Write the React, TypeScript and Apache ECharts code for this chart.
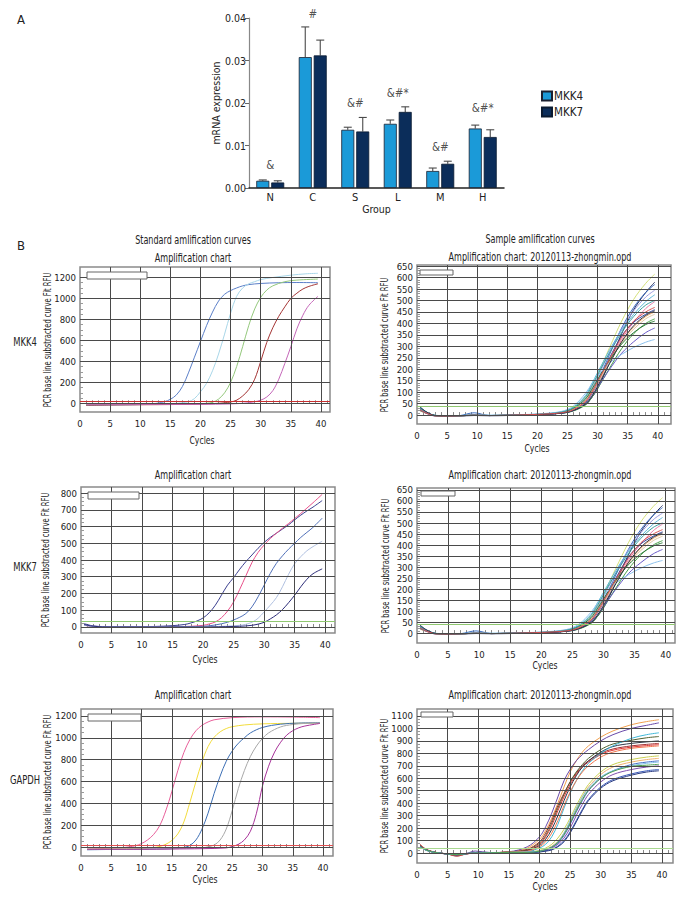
import React, { useEffect, useRef } from "react";
import * as echarts from "echarts";

const FONT = "'DejaVu Sans Condensed', 'Liberation Sans Narrow', 'Liberation Sans', sans-serif";

// ---------- Panel A data ----------
const groups = ["N", "C", "S", "L", "M", "H"];
const mkk4Mean = [0.0017, 0.0308, 0.0137, 0.0151, 0.004, 0.014];
const mkk4Upper = [0.0019, 0.0379, 0.0143, 0.016, 0.0047, 0.0148];
const mkk7Mean = [0.0013, 0.0312, 0.0133, 0.0179, 0.0057, 0.012];
const mkk7Upper = [0.0017, 0.0348, 0.0166, 0.0191, 0.0063, 0.0137];
const sigMarks = ["&", "#", "&#", "&#*", "&#", "&#*"];
const sigHeights = [0.0053, 0.041, 0.0201, 0.0224, 0.0097, 0.0189];
const barTicks = [0, 0.01, 0.02, 0.03, 0.04];

// ---------- Panel B data ----------
const mkk4Std = [
  [[1,-20],[3,-18],[5,-16],[8,-14],[10,-12],[12,-6],[13,2],[14,15],[15,38],[16,80],[17,160],[18,290],[19,440],[20,590],[21,740],[22,870],[23,975],[24,1040],[25,1075],[26,1100],[27,1120],[28,1132],[30,1143],[33,1150],[36,1152],[39.5,1150]],
  [[1,-15],[5,-14],[10,-12],[14,-8],[16,-2],[17,5],[18,15],[19,45],[20,110],[21,190],[22,310],[23,470],[24,660],[25,860],[26,1020],[27,1100],[28,1140],[29,1160],[30,1180],[32,1200],[35,1222],[37.5,1235],[39.5,1240]],
  [[1,-12],[5,-12],[10,-10],[15,-8],[20,-5],[21,0],[22,10],[23,40],[24,100],[25,200],[26,350],[27,540],[28,740],[29,900],[30,1010],[31,1080],[32,1120],[34,1160],[36,1175],[39.5,1185]],
  [[1,-18],[5,-16],[10,-14],[15,-12],[20,-8],[23,0],[24,5],[25,12],[26,30],[27,70],[28,130],[29,230],[30,400],[31,580],[32,720],[33,830],[34,920],[35,1000],[36,1050],[37,1090],[38,1115],[39.5,1140]],
  [[1,-10],[5,-10],[10,-10],[15,-10],[20,-10],[25,-6],[27,0],[28,5],[29,15],[30,30],[31,60],[32,120],[33,230],[34,380],[35,540],[36,710],[37,840],[38,935],[39.5,1020]],
];
const mkk4StdColors = ["#5b7fc8", "#a8d6e8", "#94c87c", "#a43434", "#c466b8"];

const mkk7Std = [
  [[0.5,20],[1,15],[2,6],[4,2],[8,1],[12,3],[15,8],[17,15],[18,24],[19,36],[20,54],[21,85],[22,130],[23,190],[24,250],[25,295],[26,345],[27,390],[28,430],[29,470],[30,505],[31,535],[32,560],[33,585],[34,610],[35,640],[36,668],[37,693],[38,716],[39.5,755]],
  [[0.5,10],[2,3],[5,1],[10,1],[15,2],[18,4],[20,10],[21,18],[22,30],[23,55],[24,95],[25,150],[26,225],[27,305],[28,385],[29,445],[30,490],[31,528],[32,560],[33,590],[34,618],[35,648],[36,678],[37,710],[38,742],[39.5,792]],
  [[0.5,12],[2,4],[5,1],[10,1],[15,1],[20,4],[22,12],[24,28],[25,42],[26,58],[27,80],[28,120],[29,180],[30,250],[31,320],[32,380],[33,425],[34,465],[35,500],[36,535],[37,565],[38,595],[39.5,650]],
  [[0.5,10],[2,3],[5,0],[10,0],[15,0],[20,1],[24,5],[26,10],[27,16],[28,28],[29,52],[30,90],[31,130],[32,175],[33,240],[34,315],[35,378],[36,420],[37,455],[38,480],[39.5,512]],
  [[0.5,15],[2,4],[5,0],[10,0],[15,0],[20,0],[25,3],[27,6],[28,10],[29,17],[30,28],[31,48],[32,72],[33,104],[34,145],[35,190],[36,240],[37,285],[38,318],[39.5,347]],
];
const mkk7StdColors = ["#3b3f8f", "#e8508a", "#5070b8", "#b0c0e0", "#2c2c78"];

const gapdhStd = [
  [[1,-20],[3,-15],[5,-10],[7,-5],[8,2],[9,12],[10,32],[11,65],[12,115],[13,195],[14,330],[15,505],[16,700],[17,865],[18,985],[19,1065],[20,1115],[21,1145],[22,1165],[25,1185],[30,1192],[35,1190],[39.5,1185]],
  [[1,-20],[5,-18],[10,-14],[11,-10],[12,-5],[13,5],[14,25],[15,60],[16,120],[17,230],[18,410],[19,600],[20,780],[21,920],[22,1005],[23,1055],[24,1085],[25,1102],[27,1118],[30,1128],[35,1133],[39.5,1135]],
  [[1,-25],[5,-22],[10,-20],[15,-15],[17,-5],[18,15],[19,65],[20,165],[21,310],[22,490],[23,650],[24,785],[25,880],[26,950],[27,1000],[28,1045],[30,1095],[33,1125],[36,1135],[39.5,1138]],
  [[1,-20],[5,-20],[10,-18],[15,-15],[20,-8],[21,2],[22,18],[23,65],[24,165],[25,335],[26,535],[27,700],[28,830],[29,925],[30,995],[31,1045],[33,1100],[35,1122],[37,1132],[39.5,1137]],
  [[1,-20],[5,-20],[10,-20],[15,-18],[20,-15],[24,-8],[25,5],[26,25],[27,65],[28,145],[29,310],[30,560],[31,740],[32,870],[33,960],[34,1025],[35,1065],[36,1092],[37,1108],[39.5,1132]],
];
const gapdhStdColors = ["#e8609a", "#f2dc3c", "#3c6eb4", "#a8a8a8", "#a8349a"];

const sampleCycles = [0.5,1.5,3,5,7,9.5,12,15,20,24,26,28,29,30,31,32,34,36,38,39.5];
const sampleCurves = [
  [28,12,-3,-4,-3,-1,-2,-1,3,12,30,75,120,175,235,295,410,505,575,615],
  [32,14,-2,-4,-4,-2,-3,-2,2,9,20,45,75,115,170,230,355,460,535,580],
  [25,10,-4,-5,-3,10,-2,-1,2,10,25,60,100,150,205,265,380,470,535,570],
  [22,9,-3,-4,-3,-1,-2,-1,3,11,28,70,115,165,220,275,375,455,515,545],
  [35,15,-1,-3,-2,0,-1,0,4,14,35,85,135,185,235,285,370,440,495,525],
  [20,8,-4,-5,-3,-1,-2,-1,2,9,22,55,90,135,185,235,330,405,465,495],
  [30,13,-2,-4,-3,-1,-2,-1,2,9,22,55,92,140,195,250,345,405,440,460],
  [18,8,-3,-4,-3,-1,-2,-1,3,11,26,62,100,145,190,235,320,385,430,450],
  [24,10,-3,-4,-3,-1,-2,-1,3,10,24,58,95,140,185,230,315,375,420,440],
  [20,9,-3,-5,-3,-1,-2,-1,2,8,18,45,75,115,160,205,290,355,400,420],
  [26,11,-2,-4,-3,-1,-2,-1,3,12,30,70,110,155,200,240,310,360,395,410],
  [22,9,-3,-4,-3,-1,-2,-1,2,8,20,50,80,120,160,200,270,320,360,380],
  [28,12,-2,-3,-3,0,-1,0,5,16,40,95,135,170,200,228,265,295,318,330],
  [30,12,-2,-4,-3,-1,-2,-1,3,13,32,80,125,175,225,272,360,430,480,500],
  [36,15,-2,-4,-3,-1,-2,-1,2,8,20,48,80,125,175,225,320,390,435,455],
  [24,10,-3,-4,-3,-1,-2,-1,3,10,24,60,98,145,195,245,340,410,450,470],
];
const sampleColors = ["#d4e07a","#1e2a5e","#3a6cc0","#9a9ae0","#5ab4d8","#e87aa8","#34449a","#f0a868","#e0c8a0","#48a048","#2e7a3a","#6a5ac8","#8cc0ec","#3aa0a0","#2a3040","#d85050"];

const gapdhCycles = [0.5,1.5,3,5,6.5,8,9.5,12,15,18,20,21,22,23,24,25,26,27,28,30,32,35,37.5,39.5];
const gapdhCurves = [
  [62,28,5,-7,-14,-5,0,3,8,40,110,180,280,400,530,650,740,810,860,930,980,1030,1055,1070],
  [55,25,4,-8,-12,-4,16,4,10,50,130,210,320,450,580,670,740,790,830,900,950,1000,1025,1045],
  [70,30,6,-8,-25,-8,0,3,8,30,90,160,260,380,480,570,640,700,740,800,835,860,872,880],
  [58,26,5,-7,-14,-5,0,2,7,25,80,140,240,360,470,570,650,710,760,830,875,905,925,935],
  [65,28,5,-8,-22,-7,0,3,7,22,70,130,220,340,450,550,630,690,730,790,825,850,862,870],
  [60,27,5,-7,-15,-6,0,2,6,20,60,110,190,300,420,530,620,690,740,810,855,880,892,900],
  [52,24,4,-7,-13,-5,0,2,6,12,40,70,130,230,360,480,580,660,720,800,860,920,950,965],
  [66,29,6,-8,-18,-6,0,3,7,15,50,90,160,260,380,490,580,650,700,770,810,840,852,860],
  [50,22,4,-7,-12,-5,0,2,5,8,20,40,70,120,190,280,380,470,550,650,710,750,770,780],
  [54,24,4,-7,-13,-5,0,2,5,6,15,30,55,95,160,250,350,450,530,630,690,730,750,760],
  [48,22,3,-6,-12,-4,0,2,4,6,15,25,45,80,140,230,330,420,500,600,660,710,730,740],
  [56,25,4,-7,-14,-5,0,2,4,5,12,24,40,70,120,200,300,390,470,570,630,670,690,700],
  [52,23,4,-7,-13,-5,0,2,4,4,10,18,30,55,100,170,260,350,430,530,590,635,660,670],
  [60,26,5,-8,-16,-6,0,2,3,3,8,15,25,50,90,160,250,340,420,520,580,625,650,660],
  [50,22,4,-7,-12,-5,0,2,5,8,15,30,50,90,160,260,360,450,520,610,660,700,720,730],
  [54,24,4,-7,-13,-5,0,2,5,5,14,28,48,85,150,240,340,430,505,600,655,695,705,712],
];
const gapdhColors = ["#f0a050","#6a4aa8","#a03030","#506030","#e03838","#303848","#40b8d8","#f07850","#c8d050","#f0b070","#4870c8","#8050b0","#3a5ab8","#283a80","#80c0e8","#50a050"];

const xTicks = [0, 5, 10, 15, 20, 25, 30, 35, 40];
const yTicks1200 = [0, 200, 400, 600, 800, 1000, 1200];
const yTicks650 = [0, 50, 100, 150, 200, 250, 300, 350, 400, 450, 500, 550, 600, 650];
const yTicks800 = [0, 100, 200, 300, 400, 500, 600, 700, 800];
const yTicks1100 = [0, 100, 200, 300, 400, 500, 600, 700, 800, 900, 1000, 1100];

const thresholds = [
  [{ v: 22, c: "#c83030" }],
  [{ v: 40, c: "#90c870" }],
  [{ v: 35, c: "#90c870" }],
  [{ v: 40, c: "#90c870" }],
  [{ v: 20, c: "#e05050" }],
  [{ v: 38, c: "#a8d890" }],
];

const titleTop = ["Amplification chart", "Amplification chart: 20120113-zhongmin.opd"];
const yName = "PCR base line substracted curve Fit RFU";

function range(a: number, b: number, s: number) {
  const out: number[] = [];
  for (let v = a; v <= b + 1e-9; v += s) out.push(+v.toFixed(4));
  return out;
}

// layout (pixel placement only)
const panels = [
  { grid: { left: 80, top: 267, width: 250, height: 145 }, xMax: 41.5, yMin: -83, yMax: 1300, ticks: yTicks1200, minor: 50, title: [193, 258, 0], yname: [48, 340], cycles: [202, 440] },
  { grid: { left: 417, top: 265, width: 254, height: 159 }, xMax: 42.2, yMin: -39, yMax: 655, ticks: yTicks650, minor: 10, title: [540, 257, 1], yname: [385, 345], cycles: [537, 448] },
  { grid: { left: 81, top: 487, width: 254, height: 146 }, xMax: 41.6, yMin: -36, yMax: 836, ticks: yTicks800, minor: 25, title: [193, 475, 0], yname: [46, 560], cycles: [205, 659] },
  { grid: { left: 417, top: 488, width: 258, height: 155 }, xMax: 41.5, yMin: -45, yMax: 659, ticks: yTicks650, minor: 10, title: [540, 475, 1], yname: [386, 566], cycles: [545, 665] },
  { grid: { left: 81, top: 709, width: 252, height: 147 }, xMax: 41.65, yMin: -82, yMax: 1264, ticks: yTicks1200, minor: 50, title: [193, 695, 0], yname: [48, 782], cycles: [205, 879] },
  { grid: { left: 417, top: 709, width: 256, height: 154 }, xMax: 41.8, yMin: -80, yMax: 1156, ticks: yTicks1100, minor: 25, title: [540, 695, 1], yname: [385, 786], cycles: [545, 886] },
];

const panelCurves: { data: number[][]; color: string }[][] = [
  mkk4Std.map((d, i) => ({ data: d, color: mkk4StdColors[i] })),
  sampleCurves.map((v, i) => ({ data: sampleCycles.map((c, j) => [c, v[j]]), color: sampleColors[i] })),
  mkk7Std.map((d, i) => ({ data: d, color: mkk7StdColors[i] })),
  sampleCurves.map((v, i) => ({ data: sampleCycles.map((c, j) => [c, v[j]]), color: sampleColors[i] })),
  gapdhStd.map((d, i) => ({ data: d, color: gapdhStdColors[i] })),
  gapdhCurves.map((v, i) => ({ data: gapdhCycles.map((c, j) => [c, v[j]]), color: gapdhColors[i] })),
];

const legendRects = [
  [87, 272, 60, 7], [420, 270, 33, 5], [88, 492, 51, 7], [421, 491, 34, 5], [88, 714, 53, 7], [421, 712, 32, 5],
];

function buildOption() {
  const grids: any[] = [{ left: 249, top: 18, width: 255, height: 170 }];
  const xAxes: any[] = [
    {
      type: "category", gridIndex: 0, data: groups,
      axisLine: { lineStyle: { color: "#222", width: 1.5 } },
      axisTick: { show: false },
      axisLabel: { fontSize: 11, color: "#222", margin: 4, fontFamily: FONT },
      name: "Group", nameLocation: "middle", nameGap: 15,
      nameTextStyle: { fontSize: 10.5, color: "#222", fontFamily: FONT },
      splitLine: { show: false },
    },
  ];
  const yAxes: any[] = [
    {
      type: "value", gridIndex: 0, min: 0, max: 0.04, interval: 0.01,
      axisLine: { show: true, lineStyle: { color: "#888", width: 1.2 } },
      axisTick: { show: true, length: 4, lineStyle: { color: "#666" }, customValues: barTicks },
      axisLabel: { fontSize: 10.5, color: "#222", margin: 3, fontFamily: FONT, formatter: (v: number) => v.toFixed(2), customValues: barTicks },
      splitLine: { show: false },
      name: "mRNA expression", nameLocation: "middle", nameGap: 27,
      nameTextStyle: { fontSize: 10.5, color: "#222", fontFamily: FONT },
    },
  ];
  const series: any[] = [
    {
      type: "bar", name: "MKK4", data: mkk4Mean, xAxisIndex: 0, yAxisIndex: 0,
      barWidth: 13, barGap: "15%",
      itemStyle: { color: "#1b9ad8", borderColor: "#1a2030", borderWidth: 0.8 },
    },
    {
      type: "bar", name: "MKK7", data: mkk7Mean, xAxisIndex: 0, yAxisIndex: 0,
      barWidth: 13, barGap: "15%",
      itemStyle: { color: "#0b2d5a", borderColor: "#0a1a30", borderWidth: 0.8 },
    },
  ];
  const errSeries = (mean: number[], upper: number[], offset: number) => ({
    type: "custom", xAxisIndex: 0, yAxisIndex: 0, silent: true, z: 1,
    data: mean.map((m, i) => [i, m, upper[i]]),
    encode: { x: 0, y: [1, 2] },
    renderItem: (params: any, api: any) => {
      const p1 = api.coord([api.value(0), api.value(1)]);
      const p2 = api.coord([api.value(0), api.value(2)]);
      const cx = p1[0] + offset;
      const st = { stroke: "#4a4a4a", lineWidth: 1.1 };
      return {
        type: "group",
        children: [
          { type: "line", shape: { x1: cx, y1: p1[1], x2: cx, y2: p2[1] }, style: st },
          { type: "line", shape: { x1: cx - 4, y1: p2[1], x2: cx + 4, y2: p2[1] }, style: st },
        ],
      };
    },
  });
  series.push(errSeries(mkk4Mean, mkk4Upper, -7.5));
  series.push(errSeries(mkk7Mean, mkk7Upper, 7.5));
  series.push({
    type: "scatter", xAxisIndex: 0, yAxisIndex: 0, clip: false, silent: true,
    symbolSize: 1, itemStyle: { color: "rgba(0,0,0,0)" },
    data: sigHeights.map((h, i) => [i, h]),
    label: {
      show: true, position: "inside", color: "#222", fontSize: 11.5, fontFamily: FONT,
      formatter: (p: any) => sigMarks[p.dataIndex],
    },
  });

  const SX = 0.78;
  const txt = (text: string, x: number, y: number, size: number, extra: any = {}) => ({
    type: "text", x, y, z: 100, scaleX: SX,
    style: { text, fontSize: size, fontFamily: FONT, fill: "#222", align: "center", verticalAlign: "middle", ...extra },
  });

  const graphic: any[] = [
    { ...txt("A", 21, 19, 13), scaleX: 1 },
    { ...txt("B", 21, 245, 13), scaleX: 1 },
    txt("Standard amlification curves", 193, 240, 11.5),
    txt("Sample amlification curves", 540, 239, 11.5),
    txt("MKK4", 25, 342, 12),
    txt("MKK7", 25, 567, 12),
    txt("GAPDH", 25, 780, 12),
  ];

  panels.forEach((p, k) => {
    const idx = k + 1;
    grids.push({ ...p.grid, show: true, borderColor: "#8a8a8a", borderWidth: 1.5, backgroundColor: "#fff" });
    xAxes.push({
      type: "value", gridIndex: idx, min: 0, max: p.xMax,
      axisLine: { show: false },
      axisTick: { show: true, inside: true, length: 3, lineStyle: { color: "#888" }, customValues: range(1, Math.floor(p.xMax), 1) },
      axisLabel: { fontSize: 9.5, color: "#222", margin: 6, fontFamily: FONT, customValues: xTicks, formatter: (v: number) => String(v) },
      splitLine: { show: false },
    });
    yAxes.push({
      type: "value", gridIndex: idx, min: p.yMin, max: p.yMax,
      axisLine: { show: false },
      axisTick: { show: true, inside: true, length: 3, lineStyle: { color: "#999" }, customValues: range(p.ticks[0], p.ticks[p.ticks.length - 1], p.minor) },
      axisLabel: { fontSize: 9.5, color: "#222", margin: 4, fontFamily: FONT, customValues: p.ticks, formatter: (v: number) => String(v) },
      splitLine: { show: false },
    });
    series.push({
      type: "line", xAxisIndex: idx, yAxisIndex: idx, data: [], z: 1, silent: true,
      markLine: {
        silent: true, symbol: ["none", "none"], label: { show: false },
        lineStyle: { color: "#4a4a4a", width: 1, type: "solid" },
        data: [
          ...xTicks.filter((v) => v > 0).map((v) => ({ xAxis: v })),
          ...p.ticks.map((v) => ({ yAxis: v })),
          ...thresholds[k].map((t) => ({ yAxis: t.v, lineStyle: { color: t.c, width: 1.2, type: "solid" } })),
        ],
      },
    });
    panelCurves[k].forEach((c) => {
      series.push({
        type: "line", xAxisIndex: idx, yAxisIndex: idx, data: c.data, z: 3,
        showSymbol: false, smooth: 0.35, silent: true,
        lineStyle: { color: c.color, width: 1 }, itemStyle: { color: c.color },
      });
    });
    graphic.push(txt(titleTop[p.title[2]], p.title[0], p.title[1], 11.5));
    graphic.push(txt("Cycles", p.cycles[0], p.cycles[1], 11));
    graphic.push({ ...txt(yName, p.yname[0], p.yname[1], 10), scaleX: 0.75, rotation: Math.PI / 2 });
    const r = legendRects[k];
    graphic.push({
      type: "rect", z: 100, shape: { x: r[0], y: r[1], width: r[2], height: r[3] },
      style: { fill: "#fff", stroke: "#666", lineWidth: 1 },
    });
  });

  return {
    animation: false,
    backgroundColor: "#fff",
    textStyle: { fontFamily: FONT },
    grid: grids,
    xAxis: xAxes,
    yAxis: yAxes,
    legend: {
      data: ["MKK4", "MKK7"], orient: "vertical", left: 536, top: 85,
      itemWidth: 10, itemHeight: 9, itemGap: 4, icon: "rect",
      textStyle: { fontSize: 11.5, color: "#222", fontFamily: FONT, padding: [0, 0, 0, -3] },
    },
    graphic,
    series,
  };
}

export default function App() {
  const ref = useRef<HTMLDivElement>(null);
  useEffect(() => {
    if (!ref.current) return;
    const chart = echarts.init(ref.current, undefined, { renderer: "svg" });
    chart.setOption(buildOption() as any);
    return () => chart.dispose();
  }, []);
  return <div ref={ref} style={{ position: "absolute", left: 0, top: 0, width: 696, height: 900 }} />;
}
